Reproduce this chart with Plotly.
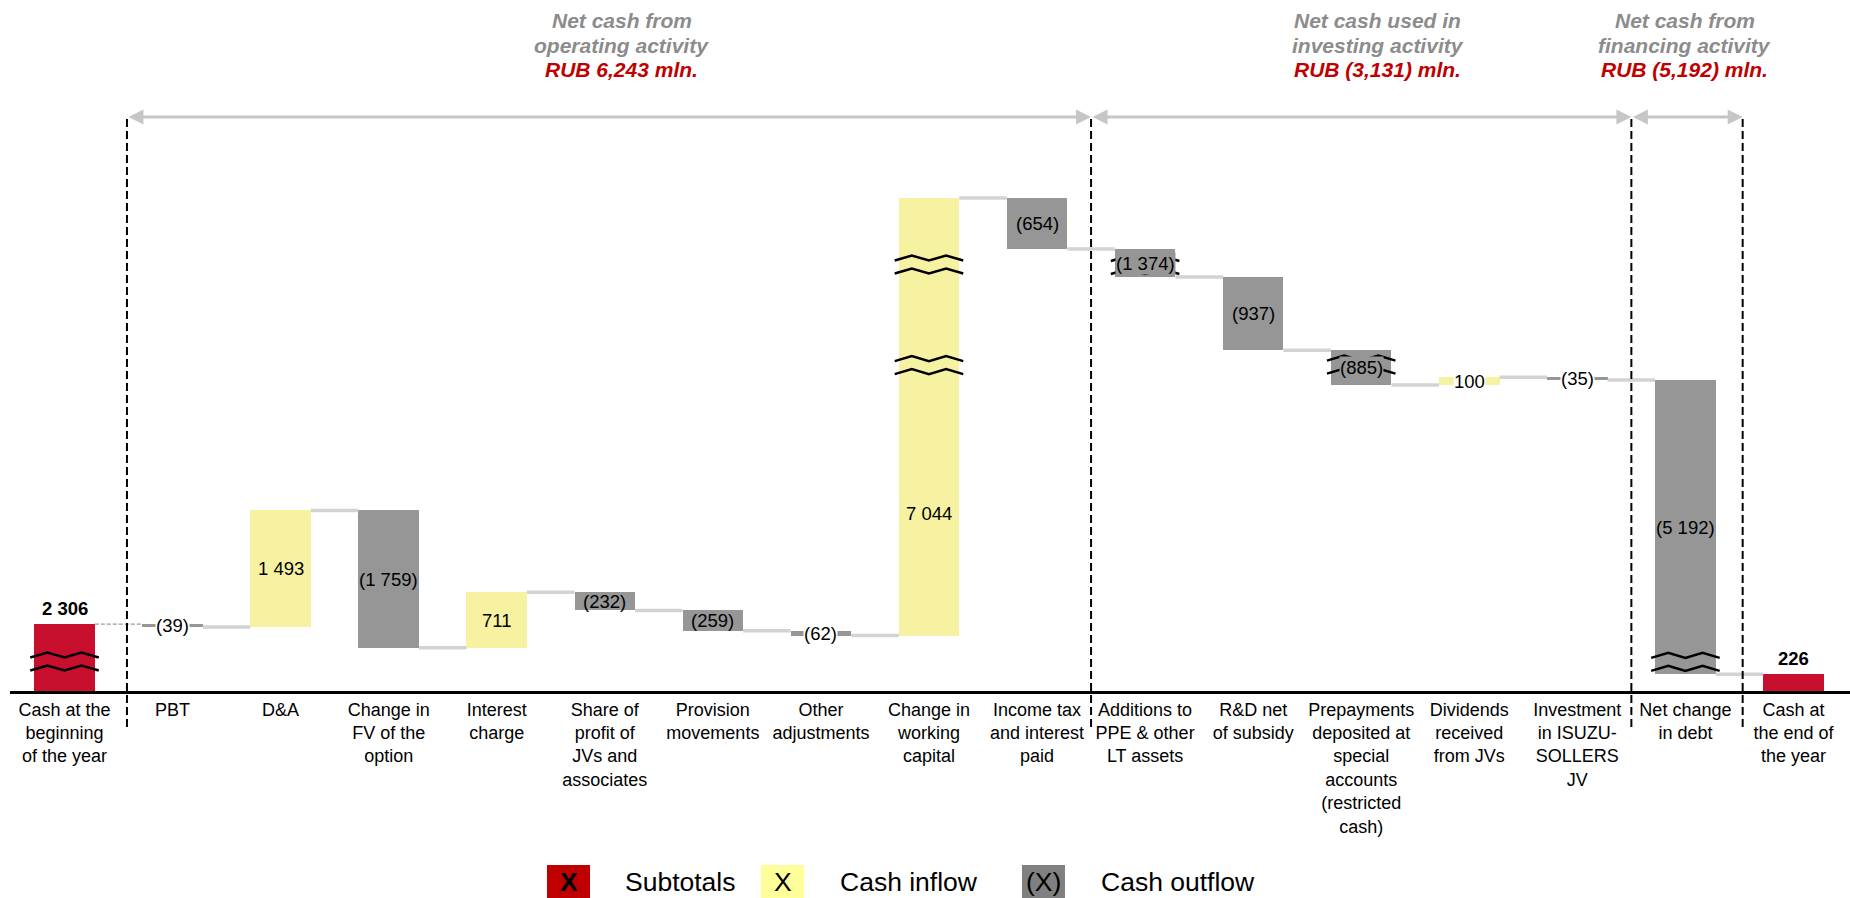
import plotly.graph_objects as go

# ---------------- data ----------------
categories = [
    "Cash at the<br>beginning<br>of the year", "PBT", "D&A",
    "Change in<br>FV of the<br>option", "Interest<br>charge",
    "Share of<br>profit of<br>JVs and<br>associates", "Provision<br>movements",
    "Other<br>adjustments", "Change in<br>working<br>capital",
    "Income tax<br>and interest<br>paid", "Additions to<br>PPE & other<br>LT assets",
    "R&D net<br>of subsidy",
    "Prepayments<br>deposited at<br>special<br>accounts<br>(restricted<br>cash)",
    "Dividends<br>received<br>from JVs", "Investment<br>in ISUZU-<br>SOLLERS<br>JV",
    "Net change<br>in debt", "Cash at<br>the end of<br>the year",
]
values = [2306, -39, 1493, -1759, 711, -232, -259, -62, 7044, -654,
          -1374, -937, -885, 100, -35, -5192, 226]
measures = ["total"] + ["relative"] * 15 + ["total"]
# amount hidden by the axis break drawn on a bar (broken-axis compression)
axis_break_cut = [1436, 0, 0, 0, 0, 0, 0, 0, 1444, 0, 1017, 0, 440, 0, 0, 1423, 0]

section_titles = [["Net cash from", "operating activity"],
                  ["Net cash used in", "investing activity"],
                  ["Net cash from", "financing activity"]]
section_totals = ["RUB 6,243 mln.", "RUB (3,131) mln.", "RUB (5,192) mln."]
legend_labels = ["Subtotals", "Cash inflow", "Cash outflow"]
legend_marks = ["<b>X</b>", "X", "(X)"]

# ---------------- style / geometry ----------------
W, H = 1850, 898
ML = 10
X_C0, X_STEP = 64.5, 108.06
K = 12.8            # value units per pixel
AXIS_PY = 692
BAR_W = 0.56
FONT = "Liberation Sans, Arial, sans-serif"
C_TOTAL, C_UP, C_DOWN = "#C8102E", "#F7F2A2", "#969696"
C_CONN = "#D3D3D3"

def px_to_paper_x(px):
    return (px - ML) / (W - ML)

def py_to_paper_y(py):
    return 1 - py / H

def fmt(v):
    s = f"{abs(v):,}".replace(",", " ")
    return f"({s})" if v < 0 else s

# ---------------- waterfall geometry from data ----------------
n = len(values)
idx = list(range(n))
bases, heights, levels, colors = [], [], [], []
level = 0
for v, m, cut in zip(values, measures, axis_break_cut):
    if m == "total":
        shown = v - cut
        bases.append(0)
        heights.append(shown)
        level = shown
        colors.append(C_TOTAL)
    else:
        shown = (abs(v) - cut) * (1 if v > 0 else -1)
        new = level + shown
        bases.append(min(level, new))
        heights.append(abs(shown))
        level = new
        colors.append(C_UP if v > 0 else C_DOWN)
    levels.append(level)

fig = go.Figure()

# connectors
cx, cy = [], []
for i in range(1, n - 1):
    cx += [i + BAR_W / 2, i + 1 - BAR_W / 2, None]
    cy += [levels[i], levels[i], None]
fig.add_trace(go.Scatter(x=cx, y=cy, mode="lines", line=dict(color=C_CONN, width=3.5),
                         hoverinfo="skip", showlegend=False))
fig.add_trace(go.Scatter(x=[0 + BAR_W / 2, 1 - BAR_W / 2], y=[levels[0], levels[0]], mode="lines",
                         line=dict(color="#9A9A9A", width=1.2, dash="4px,2px"),
                         hoverinfo="skip", showlegend=False))

fig.add_trace(go.Bar(x=idx, y=heights, base=bases, width=BAR_W,
                     marker=dict(color=colors, line=dict(width=0)),
                     hoverinfo="skip", showlegend=False))

shapes, annotations = [], []

# break marks (zig-zags) as fractions of displayed bar height
break_marks = {0: [0.449], 8: [0.848, 0.618], 10: [0.43], 12: [0.586], 15: [0.0425]}
half_gap, amp, half_w = 6.5 * K, 5 * K, BAR_W / 2 + 4 / X_STEP
for i, fracs in break_marks.items():
    for f in fracs:
        yc = bases[i] + f * heights[i]
        for off in (-half_gap, half_gap):
            y0 = yc + off
            xl, xr = i - half_w, i + half_w
            L = xr - xl
            pts = [(xl, y0 - amp / 2), (xl + 0.25 * L, y0 + amp / 2), (xl + 0.5 * L, y0 - amp / 2),
                   (xl + 0.75 * L, y0 + amp / 2), (xr, y0 - amp / 2)]
            path = "M " + " L ".join(f"{x:.4f},{y:.2f}" for x, y in pts)
            shapes.append(dict(type="path", path=path, xref="x", yref="y",
                               line=dict(color="black", width=2.5)))

# value labels
label_frac = {8: 0.28}
for i in idx:
    v = values[i]
    if measures[i] == "total":
        annotations.append(dict(x=i, y=bases[i] + heights[i] + 16 * K, xref="x", yref="y",
                                text=f"<b>{fmt(v)}</b>", showarrow=False,
                                font=dict(family=FONT, size=18.5, color="black")))
        continue
    y = bases[i] + label_frac.get(i, 0.5) * heights[i]
    bg = None
    if heights[i] / K < 10:
        bg = "white"
    elif axis_break_cut[i] and heights[i] / K < 40:
        bg = colors[i]
    ann = dict(x=i, y=y, xref="x", yref="y", text=fmt(v), showarrow=False,
               font=dict(family=FONT, size=18.5, color="black"), borderpad=0)
    if bg:
        ann["bgcolor"] = bg
    annotations.append(ann)

# section separators and arrows
sep_x = [0.578, 9.5, 14.5, 15.53]
for x in sep_x:
    shapes.append(dict(type="line", xref="x", yref="paper", x0=x, x1=x,
                       y0=py_to_paper_y(727), y1=py_to_paper_y(117),
                       line=dict(color="black", width=2, dash="8px,4px")))
ARROW_PY = 117
for a, b in zip(sep_x[:-1], sep_x[1:]):
    annotations.append(dict(x=b, y=py_to_paper_y(ARROW_PY), xref="x", yref="paper",
                            ax=a, ay=0, axref="x", ayref="pixel", text="",
                            showarrow=True, arrowhead=2, startarrowhead=2, arrowside="end+start",
                            arrowsize=1, arrowwidth=3, arrowcolor="#C6C6C6",
                            standoff=0, startstandoff=0))

# section titles
title_x = [5.159, 12.155, 14.996]
for tx, lines, tot in zip(title_x, section_titles, section_totals):
    for j, (txt, col) in enumerate([(lines[0], "#8C8C8C"), (lines[1], "#8C8C8C"), (tot, "#C00000")]):
        annotations.append(dict(x=tx, y=py_to_paper_y(20 + 25 * j), xref="x", yref="paper",
                                text=f"<b><i>{txt}</i></b>", showarrow=False,
                                xanchor="center", yanchor="middle",
                                font=dict(family=FONT, size=21, color=col)))

# legend
legend_box_px = [547, 761, 1022]
legend_text_px = [623, 838, 1099]
legend_colors = ["#C00000", "#FFFF99", "#808080"]
for bx, tx, col, mark, lab in zip(legend_box_px, legend_text_px, legend_colors, legend_marks, legend_labels):
    shapes.append(dict(type="rect", xref="paper", yref="paper",
                       x0=px_to_paper_x(bx), x1=px_to_paper_x(bx + 43),
                       y0=py_to_paper_y(865), y1=py_to_paper_y(910),
                       fillcolor=col, line=dict(width=0)))
    annotations.append(dict(x=px_to_paper_x(bx + 21.5), y=py_to_paper_y(882), xref="paper", yref="paper",
                            text=mark, showarrow=False, xanchor="center", yanchor="middle",
                            font=dict(family=FONT, size=26.5, color="black")))
    annotations.append(dict(x=px_to_paper_x(tx), y=py_to_paper_y(882), xref="paper", yref="paper",
                            text=lab, showarrow=False, xanchor="left", yanchor="middle",
                            font=dict(family=FONT, size=26.5, color="black")))

fig.update_layout(
    width=W, height=H,
    margin=dict(l=ML, r=0, t=0, b=0),
    paper_bgcolor="white", plot_bgcolor="white",
    shapes=shapes, annotations=annotations,
    bargap=0, showlegend=False,
    xaxis=dict(range=[(ML - X_C0) / X_STEP, (W - X_C0) / X_STEP],
               tickmode="array", tickvals=idx, ticktext=categories,
               tickfont=dict(family=FONT, size=18, color="black"),
               showgrid=False, zeroline=False, showline=True, linecolor="black", linewidth=3,
               ticks="", anchor="free", position=py_to_paper_y(AXIS_PY), fixedrange=True),
    yaxis=dict(range=[-(H - AXIS_PY) * K, AXIS_PY * K], visible=False, fixedrange=True),
    font=dict(family=FONT),
)

fig.write_html("out.html")
